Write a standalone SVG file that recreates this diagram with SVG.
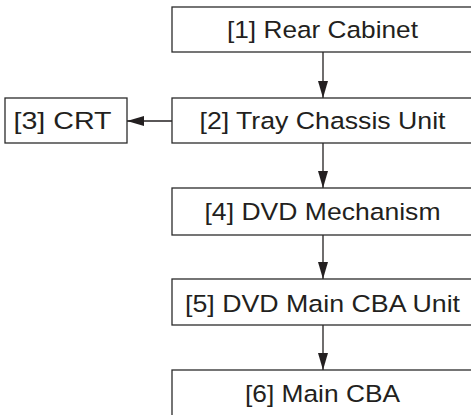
<svg xmlns="http://www.w3.org/2000/svg" width="471" height="415" viewBox="0 0 471 415">
  <style>
    .box { fill: #ffffff; stroke: #2b2b2b; stroke-width: 1.3; }
    .lbl { font-family: "Liberation Sans", Arial, sans-serif; font-size: 24.5px; fill: #231f20; text-anchor: middle; }
    .wire { stroke: #231f20; stroke-width: 1.3; fill: none; marker-end: url(#arrow); }
  </style>
  <defs>
    <marker id="arrow" markerUnits="userSpaceOnUse" markerWidth="18" markerHeight="12" refX="17" refY="5" orient="auto">
      <path d="M0,0 L17,5 L0,10 Z" fill="#231f20"/>
    </marker>
  </defs>
  <rect width="471" height="415" fill="#ffffff"/>

  <g id="connectors">
    <line class="wire" x1="323" y1="52" x2="323" y2="98"/>
    <line class="wire" x1="172" y1="121" x2="127" y2="121"/>
    <line class="wire" x1="323" y1="143" x2="323" y2="188"/>
    <line class="wire" x1="323" y1="235" x2="323" y2="279"/>
    <line class="wire" x1="323" y1="325" x2="323" y2="370"/>
  </g>

  <g id="node1">
    <rect class="box" x="172" y="7" width="310" height="45"/>
    <text class="lbl" x="322.5" y="38" textLength="191" lengthAdjust="spacingAndGlyphs">[1] Rear Cabinet</text>
  </g>
  <g id="node2">
    <rect class="box" x="172" y="98" width="310" height="45"/>
    <text class="lbl" x="322.5" y="129" textLength="246" lengthAdjust="spacingAndGlyphs">[2] Tray Chassis Unit</text>
  </g>
  <g id="node3">
    <rect class="box" x="5" y="98" width="122" height="45"/>
    <text class="lbl" x="62.5" y="129" textLength="98" lengthAdjust="spacingAndGlyphs">[3] CRT</text>
  </g>
  <g id="node4">
    <rect class="box" x="172" y="188" width="310" height="47"/>
    <text class="lbl" x="322.5" y="219.5" textLength="236" lengthAdjust="spacingAndGlyphs">[4] DVD Mechanism</text>
  </g>
  <g id="node5">
    <rect class="box" x="172" y="279" width="310" height="46"/>
    <text class="lbl" x="322.5" y="312" textLength="275" lengthAdjust="spacingAndGlyphs">[5] DVD Main CBA Unit</text>
  </g>
  <g id="node6">
    <rect class="box" x="172" y="370" width="310" height="60"/>
    <text class="lbl" x="322.5" y="401.5" textLength="155" lengthAdjust="spacingAndGlyphs">[6] Main CBA</text>
  </g>
</svg>
